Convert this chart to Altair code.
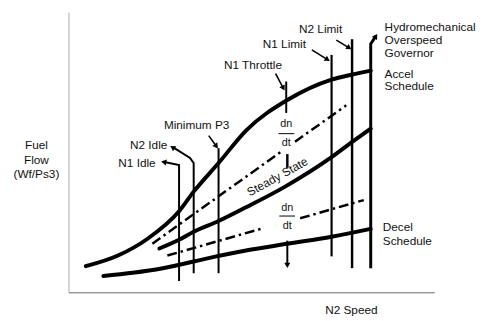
import altair as alt
import pandas as pd

# ---- data (N2 speed %, fuel flow %) ----
accel_x = [4.6, 13.4, 21.5, 30.1, 34.1, 40.9, 48.4, 59.7, 71.8, 77.4, 82.5]
accel_y = [9.5, 13.3, 19.3, 29.1, 36.1, 46.3, 57.9, 68.8, 76.1, 77.9, 79.3]
steady_x = [24.7, 30.1, 34.1, 40.9, 48.4, 59.1, 71.8, 78.0, 82.5]
steady_y = [15.8, 18.9, 21.8, 25.6, 30.5, 37.9, 48.4, 54.4, 58.6]
decel_x = [9.4, 24.2, 40.3, 48.4, 59.7, 71.8, 82.5]
decel_y = [6.0, 8.4, 13.0, 15.1, 17.5, 20.0, 22.8]

# dn/dt dash-dot lines (two pieces each, gap for the label)
dash_id = ["ua", "ua", "ub", "ub", "la", "la", "lb", "lb"]
dash_x = [22.8, 57.8, 61.8, 75.8, 26.9, 52.4, 63.2, 80.6]
dash_y = [17.5, 50.2, 53.9, 66.9, 13.3, 22.8, 26.6, 33.1]

# limit lines and leaders (polylines)
guide_id = ["n1i", "n1i", "n1i",
            "n2i", "n2i", "n2i", "n2i",
            "p3", "p3", "p3l", "p3l",
            "thr", "thr",
            "du1", "du1", "du2", "du2",
            "dl", "dl",
            "n1l", "n1l", "n1ll", "n1ll",
            "n2l", "n2l", "n2ll", "n2ll",
            "gov", "gov", "gov"]
guide_x = [26.1, 30.1, 30.1,
           28.5, 33.1, 34.1, 34.1,
           40.9, 40.9, 38.2, 40.3,
           56.5, 58.6,
           59.4, 59.4, 59.7, 59.7,
           59.7, 59.7,
           71.8, 71.8, 66.4, 70.7,
           77.4, 77.4, 73.1, 76.6,
           82.5, 82.5, 83.9]
guide_y = [46.7, 45.6, 4.2,
           51.9, 48.1, 46.3, 7.0,
           51.6, 7.0, 56.1, 52.3,
           78.2, 73.0,
           75.4, 64.2, 49.5, 44.6,
           18.6, 9.8,
           84.9, 13.0, 86.7, 83.2,
           90.5, 8.8, 90.2, 87.4,
           8.8, 88.8, 91.6]
guide_w = {"n1i": 2, "n2i": 2, "p3": 2, "p3l": 1.6, "thr": 1.6, "du1": 2,
           "du2": 2.5, "dl": 2, "n1l": 2.2, "n1ll": 1.6, "n2l": 2.5,
           "n2ll": 1.6, "gov": 3}

# arrowheads
arrow_x = [25.9, 28.3, 40.3, 58.6, 70.7, 76.6, 83.9, 59.7]
arrow_y = [46.7, 51.9, 52.3, 73.0, 83.2, 87.4, 91.6, 9.8]
arrow_ang = [281, 303, 144, 152, 122, 122, 32, 180]

# labels
lab_left_t = ["Hydromechanical", "Overspeed", "Governor", "Accel", "Schedule",
              "Decel", "Schedule"]
lab_left_x = [86.3, 86.3, 86.3, 86.3, 86.3, 85.8, 85.8]
lab_left_y = [94.7, 90.2, 85.6, 78.2, 73.7, 23.5, 18.6]

lab_right_t = ["N1 Idle", "N2 Idle"]
lab_right_x = [23.7, 26.9]
lab_right_y = [46.3, 52.6]

lab_ctr_t = ["Minimum P3", "N1 Throttle", "N1 Limit", "N2 Limit",
             "Fuel", "Flow", "(Wf/Ps3)", "N2 Speed"]
lab_ctr_x = [34.9, 50.3, 58.9, 68.8, -8.9, -8.9, -8.9, 77.2]
lab_ctr_y = [60.0, 81.4, 88.8, 94.0, 52.6, 47.4, 42.5, -6.3]

frac_t = ["dn", "dt", "dn", "dt"]
frac_x = [59.4, 59.4, 59.7, 59.7]
frac_y = [60.4, 53.3, 30.2, 23.9]
bar_id = ["u", "u", "l", "l"]
bar_x = [57.3, 61.6, 57.5, 61.8]
bar_y = [56.8, 56.8, 27.4, 27.4]

ss_label_x = [57.0]
ss_label_y = [41.4]

# axes
axis_id = ["x", "x", "y", "y"]
axis_x = [0, 100, 0, 0]
axis_y = [0, 0, 0, 100]
axis_c = ["#666", "#666", "#aaa", "#aaa"]

# ---- build ----
xs = alt.Scale(domain=[-16.667, 111.83], nice=False, zero=False)
ys = alt.Scale(domain=[-9.123, 100.702], nice=False, zero=False)
X = alt.X("x:Q", scale=xs, axis=None)
Y = alt.Y("y:Q", scale=ys, axis=None)
FONT = "Liberation Sans"

def poly(ids, xs_, ys_):
    return pd.DataFrame({"id": ids, "x": xs_, "y": ys_, "i": range(len(ids))})

curves = pd.concat([
    pd.DataFrame({"id": "accel", "x": accel_x, "y": accel_y}),
    pd.DataFrame({"id": "steady", "x": steady_x, "y": steady_y}),
    pd.DataFrame({"id": "decel", "x": decel_x, "y": decel_y}),
])
curve_layer = alt.Chart(curves).mark_line(
    color="black", strokeWidth=4, interpolate="monotone", strokeCap="round"
).encode(x=X, y=Y, detail="id:N")

dash_layer = alt.Chart(poly(dash_id, dash_x, dash_y)).mark_line(
    color="black", strokeWidth=2.5, strokeDash=[10, 4, 2.5, 4]
).encode(x=X, y=Y, detail="id:N", order="i:Q")

gdf = poly(guide_id, guide_x, guide_y)
gdf["w"] = gdf["id"].map(guide_w)
guide_layer = alt.Chart(gdf).mark_line(color="black").encode(
    x=X, y=Y, detail="id:N", order="i:Q",
    strokeWidth=alt.StrokeWidth("w:Q", scale=None))

adf = poly(axis_id, axis_x, axis_y)
adf["c"] = axis_c
axis_layer = alt.Chart(adf).mark_line(strokeWidth=1).encode(
    x=X, y=Y, detail="id:N", order="i:Q", color=alt.Color("c:N", scale=None))

arrow_layer = alt.Chart(pd.DataFrame({"x": arrow_x, "y": arrow_y, "a": arrow_ang})).mark_point(
    shape="triangle-up", filled=True, color="black", size=38, opacity=1
).encode(x=X, y=Y, angle=alt.Angle("a:Q", scale=None))

bar_layer = alt.Chart(poly(bar_id, bar_x, bar_y)).mark_line(
    color="black", strokeWidth=1
).encode(x=X, y=Y, detail="id:N", order="i:Q")

def texts(t, x, y, align, size=12):
    return alt.Chart(pd.DataFrame({"t": t, "x": x, "y": y})).mark_text(
        align=align, baseline="middle", font=FONT, fontSize=size, color="#111"
    ).encode(x=X, y=Y, text="t:N")

t_left = texts(lab_left_t, lab_left_x, lab_left_y, "left")
t_right = texts(lab_right_t, lab_right_x, lab_right_y, "right")
t_ctr = texts(lab_ctr_t, lab_ctr_x, lab_ctr_y, "center")
t_frac = texts(frac_t, frac_x, frac_y, "center", 11)
t_ss = alt.Chart(pd.DataFrame({"t": ["Steady State"], "x": ss_label_x, "y": ss_label_y})).mark_text(
    align="center", baseline="middle", font=FONT, fontSize=12, color="#111", angle=331
).encode(x=X, y=Y, text="t:N")

chart = alt.layer(
    axis_layer, dash_layer, guide_layer, curve_layer, arrow_layer, bar_layer,
    t_left, t_right, t_ctr, t_frac, t_ss
).properties(width=478, height=313, padding=0, autosize="none").configure_view(strokeWidth=0)

chart.save("out.html", embed_options={"renderer": "svg", "actions": False})
